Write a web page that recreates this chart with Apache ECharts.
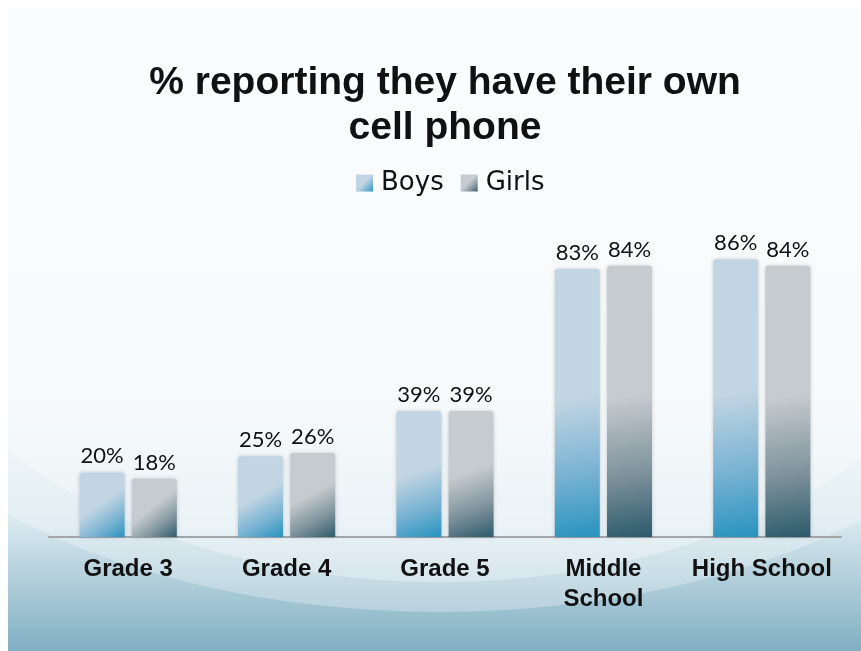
<!DOCTYPE html>
<html>
<head>
<meta charset="utf-8">
<script src="https://cdn.jsdelivr.net/npm/echarts@6/dist/echarts.min.js"></script>
<style>
html,body{margin:0;padding:0;background:#fff;}
#chart{width:861px;height:651px;}
</style>
</head>
<body>
<div id="chart"></div>
<script>
const categories = ['Grade 3', 'Grade 4', 'Grade 5', 'Middle School', 'High School'];
const boys = [20, 25, 39, 83, 86];
const girls = [18, 26, 39, 84, 84];
const seriesNames = ['Boys', 'Girls'];
const titleText = '% reporting they have their own\ncell phone';

function barGradient(light, mid, dark) {
  return new echarts.graphic.LinearGradient(0, 0, 1, 1, [
    { offset: 0, color: light },
    { offset: 0.48, color: light },
    { offset: 0.76, color: mid },
    { offset: 1, color: dark }
  ]);
}

const chart = echarts.init(document.getElementById('chart'), null, { renderer: 'canvas' });

const labelStyle = {
  show: true,
  position: 'top',
  distance: 5,
  formatter: '{c}%',
  fontFamily: 'Lato, "Liberation Sans", sans-serif',
  fontSize: 22,
  color: '#111'
};

const option = {
  animation: false,
  backgroundColor: '#ffffff',
  graphic: [
    {
      type: 'rect', z: -10, silent: true,
      shape: { x: 8, y: 8, width: 853, height: 643 },
      style: {
        fill: new echarts.graphic.LinearGradient(0, 0, 0, 1, [
          { offset: 0, color: '#f6fbfc' },
          { offset: 0.6, color: '#f1f7f9' },
          { offset: 0.8, color: '#d8e8ef' },
          { offset: 1, color: '#80afc1' }
        ])
      }
    },
    {
      type: 'circle', z: -9, silent: true,
      x: 440, y: 250, scaleX: 1.75,
      shape: { cx: 0, cy: 0, r: 362 },
      style: { fill: 'rgba(255,255,255,0.28)' }
    },
    {
      type: 'circle', z: -8, silent: true,
      x: 440, y: 200, scaleX: 1.5,
      shape: { cx: 0, cy: 0, r: 382 },
      style: { fill: 'rgba(255,255,255,0.3)' }
    }
  ],
  title: {
    text: titleText,
    left: 440,
    top: 56,
    textAlign: 'center',
    textStyle: {
      fontFamily: '"Liberation Sans", Arial, sans-serif',
      fontWeight: 'bold',
      fontSize: 39,
      lineHeight: 45,
      color: '#111'
    }
  },
  legend: {
    data: seriesNames,
    left: 351,
    top: 165,
    icon: 'rect',
    itemWidth: 17,
    itemHeight: 17,
    itemGap: 17,
    textStyle: {
      fontFamily: '"DejaVu Sans", sans-serif',
      fontSize: 26,
      color: '#111',
      padding: [0, 0, 0, 3]
    }
  },
  grid: { left: 49, right: 20, top: 214, bottom: 114 },
  xAxis: {
    type: 'category',
    data: categories,
    axisLine: { show: true, lineStyle: { color: '#a3a6a8', width: 2 } },
    axisTick: { show: false },
    axisLabel: {
      margin: 17,
      interval: 0,
      fontFamily: '"Liberation Sans", Arial, sans-serif',
      fontWeight: 'bold',
      fontSize: 24,
      lineHeight: 30,
      color: '#111',
      formatter: v => v.replace('Middle ', 'Middle\n')
    }
  },
  yAxis: {
    type: 'value',
    min: 0,
    max: 100,
    show: false,
    splitLine: { show: false }
  },
  series: [
    {
      name: seriesNames[0],
      type: 'bar',
      data: boys,
      barWidth: 45,
      barGap: '16%',
      itemStyle: {
        color: barGradient('#c2d5e3', '#78b2d2', '#2793be'),
        borderRadius: [3, 3, 0, 0],
        shadowBlur: 4,
        shadowColor: 'rgba(0,0,0,0.18)'
      },
      label: labelStyle
    },
    {
      name: seriesNames[1],
      type: 'bar',
      data: girls,
      barWidth: 45,
      itemStyle: {
        color: barGradient('#c6cbcf', '#7f939c', '#2b5a6b'),
        borderRadius: [3, 3, 0, 0],
        shadowBlur: 4,
        shadowColor: 'rgba(0,0,0,0.18)'
      },
      label: labelStyle
    }
  ]
};

chart.setOption(option);
</script>
</body>
</html>
